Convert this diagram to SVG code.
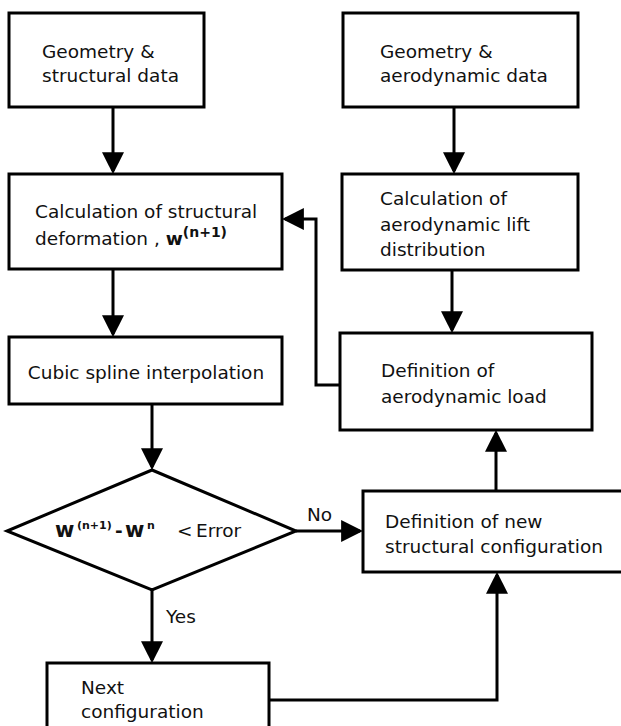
<svg xmlns="http://www.w3.org/2000/svg" width="621" height="726" viewBox="0 0 621 726">
<style>
.box{fill:#fff;stroke:#000;stroke-width:3}
.t{font-family:"DejaVu Sans",sans-serif;font-size:18.5px;fill:#111}
.b{font-weight:bold}
.sup{font-size:14px;font-weight:bold}
.sup2{font-size:11px;font-weight:bold}
.c{fill:none;stroke:#000;stroke-width:3}
</style>
<defs>
<marker id="ah" markerUnits="userSpaceOnUse" markerWidth="22" markerHeight="22" viewBox="0 0 21 21" refX="18" refY="10.5" orient="auto">
<path d="M0,0 L21,10.5 L0,21 z" fill="#000"/>
</marker>
</defs>
<rect width="621" height="726" fill="#fff"/>
<g id="connectors">
<path class="c" d="M113,107 V171" marker-end="url(#ah)"/>
<path class="c" d="M454,107 V171" marker-end="url(#ah)"/>
<path class="c" d="M113,269 V334" marker-end="url(#ah)"/>
<path class="c" d="M452,270 V330" marker-end="url(#ah)"/>
<path class="c" d="M152,404 V467" marker-end="url(#ah)"/>
<path class="c" d="M152,590 V660" marker-end="url(#ah)"/>
<path class="c" d="M296,531 H360" marker-end="url(#ah)"/>
<path class="c" d="M269,700 H497 V575" marker-end="url(#ah)"/>
<path class="c" d="M496,491 V433" marker-end="url(#ah)"/>
<path class="c" d="M340,385 H316 V219 H285" marker-end="url(#ah)"/>
<text class="t" x="166" y="623">Yes</text>
<text class="t" x="307" y="521">No</text>
</g>
<g id="geo-struct">
<rect class="box" x="9" y="13" width="195" height="94"/>
<text class="t" x="42" y="58">Geometry &amp;</text>
<text class="t" x="42" y="82">structural data</text>
</g>
<g id="calc-struct">
<rect class="box" x="9" y="174" width="273" height="95"/>
<text class="t" x="35" y="218">Calculation of structural</text>
<text class="t" x="35" y="245">deformation , <tspan class="b">w</tspan><tspan class="sup" dy="-8">(n+1)</tspan></text>
</g>
<g id="spline">
<rect class="box" x="9" y="337" width="273" height="67"/>
<text class="t" x="146" y="379" text-anchor="middle">Cubic spline interpolation</text>
</g>
<g id="decision">
<polygon class="box" points="152,470 296,531 152,590 7,531"/>
<text class="t" y="537"><tspan class="b" x="55" style="font-size:21px">w</tspan><tspan class="sup2" x="77" dy="-8">(n+1)</tspan><tspan class="b" x="115" dy="8">-</tspan><tspan class="b" x="125" style="font-size:21px">w</tspan><tspan class="sup2" x="147" dy="-8">n</tspan><tspan x="177" dy="8">&lt;</tspan><tspan x="196">Error</tspan></text>
</g>
<g id="next">
<rect class="box" x="47" y="663" width="222" height="90"/>
<text class="t" x="81" y="694">Next</text>
<text class="t" x="81" y="718">configuration</text>
</g>
<g id="geo-aero">
<rect class="box" x="343" y="13" width="235" height="94"/>
<text class="t" x="380" y="58">Geometry &amp;</text>
<text class="t" x="380" y="82">aerodynamic data</text>
</g>
<g id="calc-lift">
<rect class="box" x="342" y="174" width="236" height="96"/>
<text class="t" x="380" y="205">Calculation of</text>
<text class="t" x="380" y="231">aerodynamic lift</text>
<text class="t" x="380" y="256">distribution</text>
</g>
<g id="def-load">
<rect class="box" x="340" y="333" width="252" height="97"/>
<text class="t" x="381" y="377">Definition of</text>
<text class="t" x="381" y="403">aerodynamic load</text>
</g>
<g id="def-new">
<rect class="box" x="363" y="491" width="280" height="81"/>
<text class="t" x="385" y="528">Definition of new</text>
<text class="t" x="385" y="553">structural configuration</text>
</g>
</svg>
